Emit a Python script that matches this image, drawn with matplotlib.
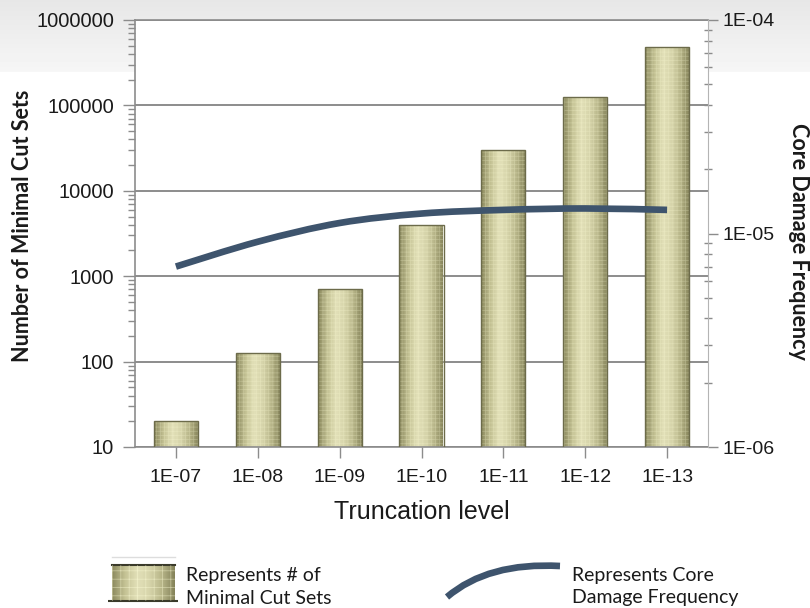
import matplotlib
matplotlib.use("Agg")
import matplotlib.pyplot as plt
import numpy as np
from matplotlib.colors import LinearSegmentedColormap
from matplotlib.patches import PathPatch, Rectangle
from matplotlib.path import Path
from matplotlib.ticker import FixedLocator, LogLocator, NullFormatter

# ----------------------------- data ---------------------------------------
levels = ["1E-07", "1E-08", "1E-09", "1E-10", "1E-11", "1E-12", "1E-13"]
cut_sets = [20, 125, 700, 4000, 30000, 125000, 480000]
cdf = [7.0e-6, 9.15e-6, 1.12e-5, 1.24e-5, 1.29e-5, 1.31e-5, 1.29e-5]

left_ticks = [10, 100, 1000, 10000, 100000, 1000000]
left_tick_labels = ["10", "100", "1000", "10000", "100000", "1000000"]
right_ticks = [1e-6, 1e-5, 1e-4]
right_tick_labels = ["1E-06", "1E-05", "1E-04"]

W, H = 810, 608
TEXT = "#1a1a1a"
GRID = "#8c8c8c"
LINE = "#3e546d"
SANS = ["Liberation Sans", "DejaVu Sans"]
LABEL_FONT = ["Lato", "DejaVu Sans"]

bar_cmap = LinearSegmentedColormap.from_list(
    "cyl", ["#8c8a5f", "#c4c294", "#e2e0b8", "#d6d4aa", "#b7b588", "#85835a"])


def fx(px):
    return px / W


def fy(py):
    return 1 - py / H


def smooth_path(xs, ys):
    """Catmull-Rom style bezier through the points (in log10 y space)."""
    pts = np.column_stack([xs, np.log10(ys)])
    verts, codes = [pts[0]], [Path.MOVETO]
    n = len(pts)
    for i in range(n - 1):
        p0, p1 = pts[max(i - 1, 0)], pts[i]
        p2, p3 = pts[i + 1], pts[min(i + 2, n - 1)]
        verts += [p1 + (p2 - p0) / 6, p2 - (p3 - p1) / 6, p2]
        codes += [Path.CURVE4] * 3
    verts = np.array(verts)
    verts[:, 1] = 10 ** verts[:, 1]
    return Path(verts, codes)


def textured_box(ax, x0, x1, y0, y1, hatch, alpha=0.28):
    grad = np.linspace(0, 1, 64)[None, :]
    ax.imshow(grad, cmap=bar_cmap, extent=(x0, x1, y0, y1), aspect="auto",
              interpolation="bilinear", zorder=2)
    ax.add_patch(Rectangle((x0, y0), x1 - x0, y1 - y0, facecolor="none",
                           edgecolor=(1, 1, 0.85, alpha), hatch=hatch,
                           linewidth=0, zorder=2.5))


plt.rcParams["hatch.linewidth"] = 0.5

fig = plt.figure(figsize=(W / 100, H / 100), dpi=100)

# slide banner behind the chart
bg = fig.add_axes([0, 0, 1, 1], zorder=-10)
shade = np.ones(H)
shade[:72] = np.linspace(0.905, 0.965, 72)
bg.imshow(np.repeat(shade[:, None], 2, axis=1), cmap="gray", vmin=0, vmax=1,
          aspect="auto", extent=(0, 1, 0, 1))
bg.axis("off")

# ----------------------------- bars ----------------------------------------
ax = fig.add_axes([fx(135), fy(447), fx(708) - fx(135), fy(20) - fy(447)])
ax.set_yscale("log")
x = np.arange(len(levels))
width = 0.54
bars = ax.bar(x, cut_sets, width=width, facecolor="none",
              edgecolor="#6c6b4a", linewidth=1.0, zorder=3)
for b in bars:
    textured_box(ax, b.get_x(), b.get_x() + b.get_width(), 10, b.get_height(), "++++")

ax.set_xlim(-0.5, len(levels) - 0.5)
ax.set_ylim(10, 1e6)
ax.set_axisbelow(True)
ax.yaxis.set_major_locator(FixedLocator(left_ticks))
ax.set_yticklabels(left_tick_labels)
ax.yaxis.set_minor_locator(LogLocator(base=10, subs=range(2, 10)))
ax.yaxis.set_minor_formatter(NullFormatter())
ax.set_xticks(x)
ax.set_xticklabels(levels)
ax.yaxis.grid(True, which="major", color=GRID, linewidth=1.4, zorder=0)
ax.tick_params(axis="y", which="major", direction="out", length=9, width=1,
               color=GRID, labelsize=14.5, labelcolor=TEXT, pad=6)
ax.tick_params(axis="y", which="minor", direction="out", length=5, width=1,
               color=GRID)
ax.tick_params(axis="x", direction="out", length=8, width=1, color=GRID,
               labelsize=14, labelcolor=TEXT, pad=8)
for lab in ax.get_xticklabels() + ax.get_yticklabels():
    lab.set_family(SANS)
for side in ["left", "bottom", "top"]:
    ax.spines[side].set_color(GRID)
    ax.spines[side].set_linewidth(1.2)
ax.spines["right"].set_visible(False)
ax.set_xlabel("Truncation level", fontsize=18, color=TEXT, family=SANS,
              labelpad=10)

# ----------------------------- CDF line ------------------------------------
ax2 = ax.twinx()
ax2.set_yscale("log")
ax2.set_ylim(1e-6, 1e-4)
ax2.add_patch(PathPatch(smooth_path(x, cdf), facecolor="none", edgecolor=LINE,
                        linewidth=4.8, capstyle="butt", transform=ax2.transData,
                        zorder=5))
ax2.yaxis.set_major_locator(FixedLocator(right_ticks))
ax2.set_yticklabels(right_tick_labels)
ax2.yaxis.set_minor_locator(LogLocator(base=10, subs=range(2, 10)))
ax2.yaxis.set_minor_formatter(NullFormatter())
ax2.tick_params(axis="y", which="major", direction="out", length=7, width=1,
                color=GRID, labelsize=14, labelcolor=TEXT, pad=3.5)
ax2.tick_params(axis="y", which="minor", direction="inout", length=6, width=1,
                color=GRID)
for lab in ax2.get_yticklabels():
    lab.set_family(SANS)
for side in ["left", "bottom", "top"]:
    ax2.spines[side].set_visible(False)
ax2.spines["right"].set_color("#b4b4b4")

# axis titles
fig.text(fx(23), fy(226), "Number of Minimal Cut Sets", rotation=90,
         ha="center", va="center", fontsize=15.5, fontweight="bold",
         family=LABEL_FONT, color=TEXT)
fig.text(fx(799), fy(241), "Core Damage Frequency", rotation=270,
         ha="center", va="center", fontsize=15.5, fontweight="bold",
         family=LABEL_FONT, color=TEXT)

# ----------------------------- legend --------------------------------------
icon = fig.add_axes([fx(108), fy(603), fx(178) - fx(108), fy(556) - fy(603)])
icon.set_xlim(0, 1)
icon.set_ylim(0, 1)
textured_box(icon, 0.05, 0.95, 0.05, 0.8, "++", alpha=0.5)
icon.plot([0.05, 0.95], [0.8, 0.8], color="#3a3a2a", linewidth=1.5)
icon.plot([0.0, 1.0], [0.04, 0.04], color="#3a3a2a", linewidth=1.5)
icon.plot([0.05, 0.95], [0.97, 0.97], color="#dddddd", linewidth=1)
icon.axis("off")

fig.text(fx(186), fy(575), "Represents # of", ha="left", va="center",
         fontsize=14, family=LABEL_FONT, color=TEXT)
fig.text(fx(186), fy(598), "Minimal Cut Sets", ha="left", va="center",
         fontsize=14, family=LABEL_FONT, color=TEXT)

arc = Path([(fx(447), fy(597)), (fx(488), fy(562)), (fx(560), fy(566))],
           [Path.MOVETO, Path.CURVE3, Path.CURVE3])
fig.add_artist(PathPatch(arc, facecolor="none", edgecolor=LINE, linewidth=4.8,
                         capstyle="butt", transform=fig.transFigure))
fig.text(fx(572), fy(575), "Represents Core", ha="left", va="center",
         fontsize=14, family=LABEL_FONT, color=TEXT)
fig.text(fx(572), fy(598), "Damage Frequency", ha="left", va="center",
         fontsize=14, family=LABEL_FONT, color=TEXT)

fig.savefig("out.png", dpi=100)
